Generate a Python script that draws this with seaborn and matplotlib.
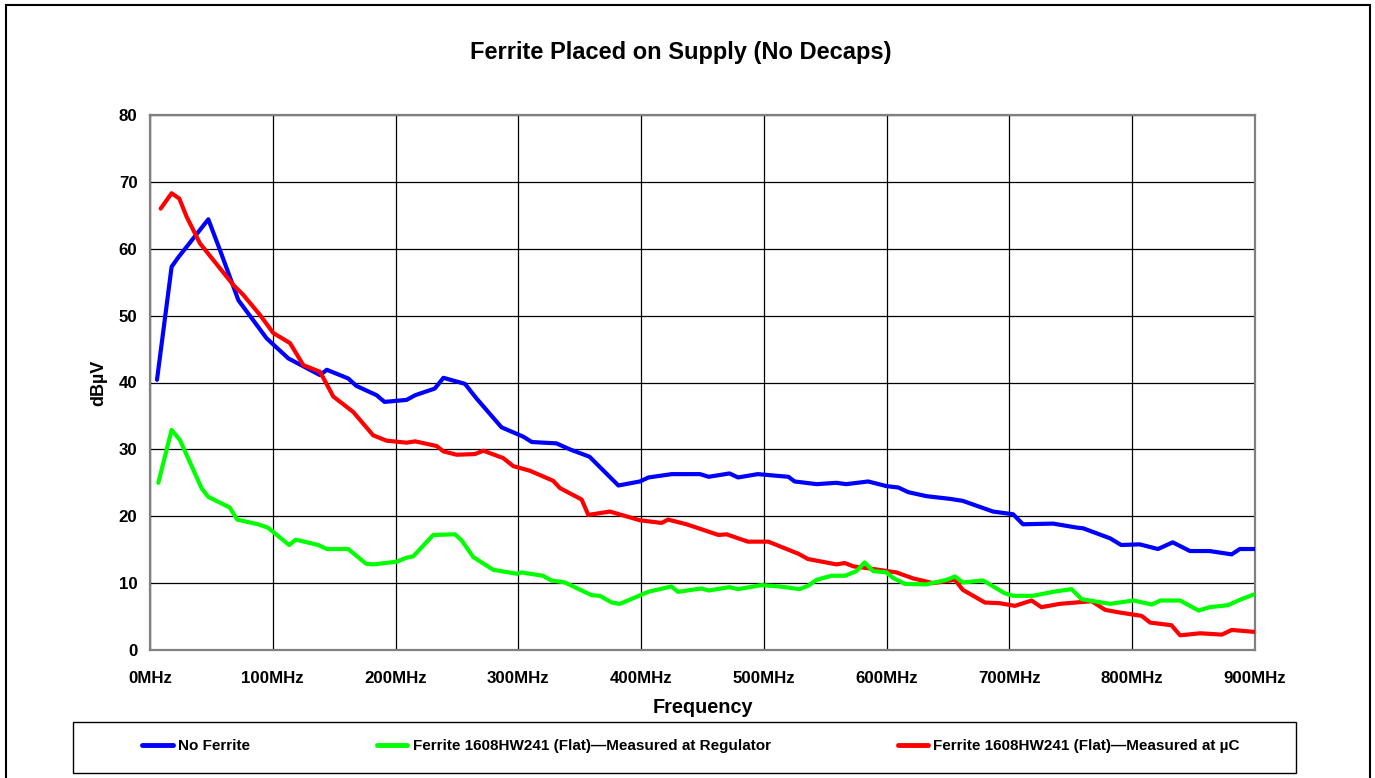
import numpy as np
import pandas as pd
import matplotlib
matplotlib.use("Agg")
import matplotlib.pyplot as plt
from matplotlib.patches import Rectangle
from matplotlib.lines import Line2D
import seaborn as sns

# ---- measured spectra (frequency in MHz, level in dBuV) ----
no_ferrite_mhz = [5.7, 17.6, 23, 47.5, 57, 72, 95, 112.7, 138.5, 144, 161.5, 168, 184.6, 191,
                  209, 216, 232, 239, 256.5, 266, 286.3, 304, 311, 331, 342, 358, 381.5, 399,
                  406, 425, 448, 455, 472, 479, 495, 520, 525, 543, 559, 567, 585, 600, 609.5,
                  617.6, 632.5, 651.6, 662, 686.7, 703, 711, 735.6, 755, 760, 782, 791, 806,
                  821, 833, 847, 863, 881, 887.6, 900]
no_ferrite_dbuv = [40.4, 57.3, 58.7, 64.4, 59.8, 52.3, 46.6, 43.6, 41.1, 41.9, 40.6, 39.5, 38.1,
                   37.1, 37.4, 38.1, 39.1, 40.7, 39.8, 37.6, 33.3, 31.9, 31.1, 30.9, 30.0, 28.9,
                   24.6, 25.2, 25.8, 26.3, 26.3, 25.9, 26.4, 25.8, 26.3, 25.9, 25.2, 24.8, 25.0,
                   24.8, 25.2, 24.5, 24.3, 23.6, 23.0, 22.6, 22.3, 20.7, 20.3, 18.8, 18.9, 18.3,
                   18.2, 16.7, 15.7, 15.8, 15.1, 16.1, 14.8, 14.8, 14.3, 15.1, 15.1]

regulator_mhz = [6.8, 17.6, 24.4, 42, 47.5, 65, 71, 88, 96, 113.4, 118.8, 137, 144, 161.5, 176,
                 181.8, 200.8, 209, 214.4, 230.7, 248.4, 253.8, 263.3, 279.5, 298.6, 302.6, 320,
                 326.9, 338, 344.7, 359.6, 366.5, 376, 382.8, 405.8, 424.7, 430, 449, 455, 472,
                 479, 498, 513, 529, 536, 543, 555, 566, 575.5, 582, 589, 600, 605, 614.8, 632,
                 649, 655.6, 662, 678.6, 696, 703, 719, 735.6, 750.6, 758.8, 782, 801, 816, 823,
                 839, 854, 863, 878, 887.6, 899]
regulator_dbuv = [25.0, 32.9, 31.4, 24.2, 22.9, 21.3, 19.5, 18.8, 18.3, 15.7, 16.5, 15.7, 15.1,
                  15.1, 12.9, 12.8, 13.2, 13.8, 14.0, 17.2, 17.3, 16.4, 13.9, 12.0, 11.4, 11.6,
                  11.1, 10.4, 10.1, 9.5, 8.2, 8.1, 7.1, 6.9, 8.7, 9.5, 8.7, 9.2, 8.9, 9.4, 9.1,
                  9.7, 9.5, 9.1, 9.6, 10.5, 11.1, 11.1, 11.8, 13.1, 11.8, 11.6, 10.8, 9.9, 9.8,
                  10.5, 11.0, 10.1, 10.4, 8.5, 8.1, 8.1, 8.7, 9.1, 7.6, 6.9, 7.4, 6.8, 7.4, 7.4,
                  5.9, 6.4, 6.7, 7.5, 8.3]

uc_mhz = [8.7, 17.6, 23.9, 29.8, 40.7, 67.8, 76, 89.6, 100.4, 114, 124.9, 138.5, 149.3, 165.5,
          181.8, 192.7, 209, 216, 233.5, 239, 249.7, 264.7, 271.5, 287.7, 295.8, 309.5, 328.4,
          334, 351.6, 357, 374.6, 399, 416.7, 422, 437, 463, 469.6, 487, 503.6, 528, 536, 559,
          566, 573, 586, 608, 621.6, 637.9, 655.6, 662, 680, 692, 704.5, 718, 726, 741, 767,
          778, 790, 807.7, 814.6, 832, 839, 855.5, 873, 881, 900]
uc_dbuv = [66.0, 68.3, 67.5, 64.8, 60.8, 54.6, 53.1, 50.1, 47.4, 45.9, 42.6, 41.6, 37.9, 35.6,
           32.1, 31.3, 31.0, 31.2, 30.5, 29.7, 29.2, 29.3, 29.8, 28.7, 27.5, 26.8, 25.3, 24.2,
           22.5, 20.2, 20.7, 19.4, 19.0, 19.5, 18.8, 17.2, 17.3, 16.2, 16.2, 14.4, 13.6, 12.8,
           13.0, 12.5, 12.2, 11.6, 10.7, 10.0, 10.5, 9.0, 7.1, 7.0, 6.6, 7.4, 6.4, 6.9, 7.3,
           6.0, 5.6, 5.1, 4.1, 3.7, 2.2, 2.5, 2.3, 3.0, 2.7]

series_names = ["No Ferrite",
                "Ferrite 1608HW241 (Flat)\u2014Measured at Regulator",
                "Ferrite 1608HW241 (Flat)\u2014Measured at \u00b5C"]
series_colors = ["#0000FF", "#00FF00", "#FF0000"]

x_ticks = list(range(0, 901, 100))
x_tick_labels = [f"{v}MHz" for v in x_ticks]
y_ticks = list(range(0, 81, 10))

frames = [
    pd.DataFrame({"MHz": no_ferrite_mhz, "dBuV": no_ferrite_dbuv, "series": series_names[0]}),
    pd.DataFrame({"MHz": regulator_mhz, "dBuV": regulator_dbuv, "series": series_names[1]}),
    pd.DataFrame({"MHz": uc_mhz, "dBuV": uc_dbuv, "series": series_names[2]}),
]

sns.set_style("white")
plt.rcParams["font.family"] = ["Liberation Sans", "DejaVu Sans"]
plt.rcParams["font.weight"] = "bold"
for key in ["text.color", "axes.labelcolor", "xtick.color", "ytick.color"]:
    plt.rcParams[key] = "black"

W, H = 1375, 778
fig = plt.figure(figsize=(W / 100, H / 100), dpi=100)
ax = fig.add_axes([150 / W, 1 - 650 / H, (1255 - 150) / W, (650 - 115) / H])

# blue underneath, red above it, green on top
for idx, z in zip([0, 2, 1], [3, 4, 5]):
    sns.lineplot(data=frames[idx], x="MHz", y="dBuV", color=series_colors[idx],
                 linewidth=3.0, sort=False, estimator=None, ax=ax, zorder=z, legend=False)

ax.set_xlim(0, 900)
ax.set_ylim(0, 80)
ax.set_xticks(x_ticks)
ax.set_xticklabels(x_tick_labels)
ax.set_yticks(y_ticks)
ax.grid(True, color="black", linewidth=0.9)
ax.set_axisbelow(True)
for s in ax.spines.values():
    s.set_color("#808080")
    s.set_linewidth(1.6)
ax.tick_params(axis="both", direction="out", length=5, width=1, color="black",
               labelsize=12.2, pad=4)
ax.tick_params(axis="x", pad=10)
for lbl in ax.get_xticklabels() + ax.get_yticklabels():
    lbl.set_fontweight("bold")
ax.set_xlabel("Frequency", fontsize=14.3, fontweight="bold", labelpad=9)
ax.set_ylabel("dB\u00b5V", fontsize=13, fontweight="bold", labelpad=8)

fig.text(681 / W, 1 - 52 / H, "Ferrite Placed on Supply (No Decaps)", ha="center",
         va="center", fontsize=17, fontweight="bold")

# legend box along the bottom
fig.patches.append(Rectangle((73 / W, 1 - 773 / H), (1296 - 73) / W, (773 - 722) / H,
                             transform=fig.transFigure, fill=False, edgecolor="black",
                             linewidth=1.0))
handles = [Line2D([], [], color=c, linewidth=3.5) for c in series_colors]
fig.legend(handles, series_names, loc="center", bbox_to_anchor=(691 / W, 1 - 746 / H),
           ncol=3, frameon=False, handlelength=2.0, handletextpad=0.35,
           columnspacing=8.3, prop={"size": 11, "weight": "bold"})

# outer chart border
fig.patches.append(Rectangle((6 / W, -0.02), (1370 - 6) / W, 1 - 5 / H + 0.02,
                             transform=fig.transFigure, fill=False, edgecolor="black",
                             linewidth=1.5))

fig.savefig("out.png", dpi=100, facecolor="white")
